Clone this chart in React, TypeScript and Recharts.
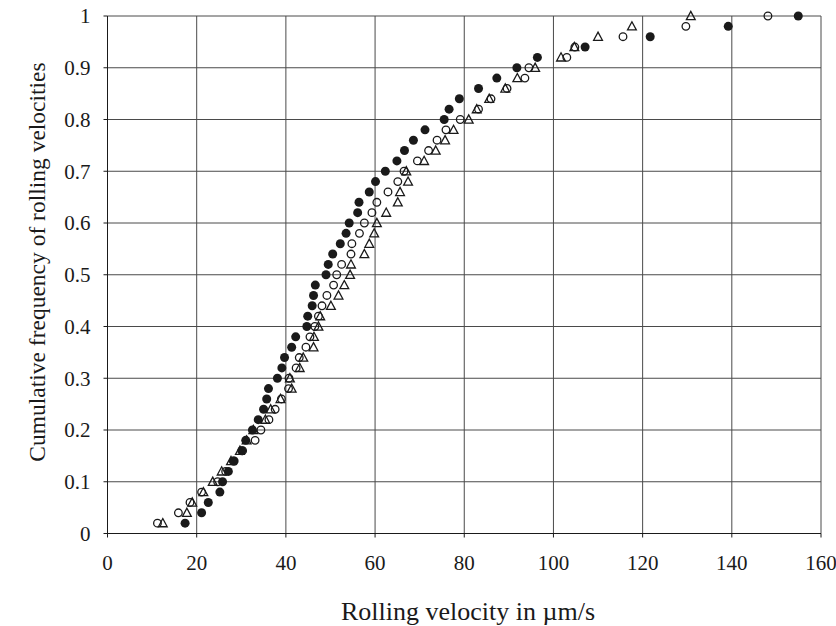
import React from "react";
import {
  ScatterChart,
  Scatter,
  XAxis,
  YAxis,
  CartesianGrid,
  Label,
} from "recharts";

// cumulative frequency levels shared by all three samples
const freq = [
  0.02, 0.04, 0.06, 0.08, 0.1, 0.12, 0.14, 0.16, 0.18, 0.2,
  0.22, 0.24, 0.26, 0.28, 0.3, 0.32, 0.34, 0.36, 0.38, 0.4,
  0.42, 0.44, 0.46, 0.48, 0.5, 0.52, 0.54, 0.56, 0.58, 0.6,
  0.62, 0.64, 0.66, 0.68, 0.7, 0.72, 0.74, 0.76, 0.78, 0.8,
  0.82, 0.84, 0.86, 0.88, 0.9, 0.92, 0.94, 0.96, 0.98, 1.0,
];

// rolling velocities (µm/s), filled circles
const filledVel = [
  17.4, 21.1, 22.6, 25.2, 25.8, 27.1, 28.4, 30.1, 31.0, 32.5,
  33.8, 35.0, 35.7, 36.1, 38.1, 39.1, 39.7, 41.3, 42.2, 44.7,
  44.9, 45.9, 46.2, 46.6, 49.0, 49.5, 50.5, 52.2, 53.5, 54.2,
  56.1, 56.4, 58.7, 60.1, 62.3, 64.9, 66.6, 68.6, 71.2, 75.5,
  76.6, 78.9, 83.2, 87.3, 91.8, 96.4, 107.1, 121.7, 139.2, 154.9,
];

// open circles
const openVel = [
  11.2, 15.9, 18.5, 21.1, 24.7, 26.5, 28.2, 30.3, 33.1, 34.4,
  36.2, 37.6, 39.0, 40.6, 40.7, 42.3, 43.0, 44.5, 45.4, 46.5,
  47.3, 48.1, 49.2, 50.7, 51.4, 52.5, 54.6, 54.8, 56.5, 57.6,
  59.3, 60.4, 62.9, 65.1, 66.5, 69.5, 72.0, 73.9, 75.9, 79.1,
  83.2, 86.0, 89.6, 93.6, 94.5, 103.0, 104.8, 115.6, 129.7, 148.1,
];

// open triangles
const triVel = [
  12.4, 17.8, 19.0, 21.5, 23.6, 25.6, 27.7, 29.7, 31.2, 32.7,
  35.4, 36.6, 38.8, 41.3, 40.9, 43.1, 43.9, 46.2, 46.3, 47.3,
  47.7, 50.1, 51.8, 53.1, 54.4, 54.6, 57.6, 58.7, 59.8, 60.4,
  62.5, 65.1, 65.6, 67.4, 67.0, 71.0, 73.6, 75.7, 77.6, 81.0,
  82.8, 85.6, 89.2, 91.9, 95.9, 101.7, 104.7, 110.0, 117.6, 130.8,
];

const xTicks = [0, 20, 40, 60, 80, 100, 120, 140, 160];
const yTicks = [0, 0.1, 0.2, 0.3, 0.4, 0.5, 0.6, 0.7, 0.8, 0.9, 1];

const toPoints = (vals: number[]) => vals.map((v, i) => ({ v, f: freq[i] }));

const INK = "#1a1a1a";
const FONT = "Liberation Serif";

const FilledDot = (p: any) => <circle cx={p.cx} cy={p.cy} r={4.5} fill={INK} />;

const OpenDot = (p: any) => (
  <circle cx={p.cx} cy={p.cy} r={3.8} fill="none" stroke={INK} strokeWidth={1.3} />
);

const TriDot = (p: any) => {
  const { cx, cy } = p;
  return (
    <polygon
      points={`${cx},${cy - 4.6} ${cx + 4.4},${cy + 3.6} ${cx - 4.4},${cy + 3.6}`}
      fill="none"
      stroke={INK}
      strokeWidth={1.3}
    />
  );
};

const XTick = (p: any) => (
  <text
    x={p.x}
    y={p.y}
    dy="0.71em"
    textAnchor="middle"
    fontSize={21}
    fontFamily={FONT}
    fill={INK}
  >
    {p.payload.value}
  </text>
);

const YTick = (p: any) => (
  <text
    x={p.x}
    y={p.y}
    dy="0.355em"
    textAnchor="end"
    fontSize={21}
    fontFamily={FONT}
    fill={INK}
  >
    {p.payload.value}
  </text>
);

export default function App() {
  return (
    <div style={{ position: "absolute", left: 0, top: 0, background: "#fff" }}>
      <ScatterChart
        width={836}
        height={626}
        margin={{ top: 16, right: 15, left: 0, bottom: 0 }}
      >
        <CartesianGrid stroke="#4a4a4a" strokeWidth={1} />
        <XAxis
          type="number"
          dataKey="v"
          domain={[0, 160]}
          ticks={xTicks}
          interval={0}
          height={92.5}
          tick={XTick}
          tickSize={4}
          tickMargin={18}
          stroke={INK}
        >
          <Label
            content={() => (
              <text
                x={468}
                y={611}
                textAnchor="middle"
                dominantBaseline="central"
                fontSize={26}
                fontFamily={FONT}
                fill={INK}
              >
                Rolling velocity in µm/s
              </text>
            )}
          />
        </XAxis>
        <YAxis
          type="number"
          dataKey="f"
          domain={[0, 1]}
          ticks={yTicks}
          interval={0}
          width={107.5}
          tick={YTick}
          tickSize={4}
          tickMargin={13}
          stroke={INK}
        >
          <Label
            content={() => (
              <text
                x={37}
                y={262}
                transform="rotate(-90 37 262)"
                textAnchor="middle"
                dominantBaseline="central"
                fontSize={23.5}
                fontFamily={FONT}
                fill={INK}
              >
                Cumulative frequency of rolling velocities
              </text>
            )}
          />
        </YAxis>
        <Scatter data={toPoints(filledVel)} shape={FilledDot} isAnimationActive={false} />
        <Scatter data={toPoints(openVel)} shape={OpenDot} isAnimationActive={false} />
        <Scatter data={toPoints(triVel)} shape={TriDot} isAnimationActive={false} />
      </ScatterChart>
    </div>
  );
}
